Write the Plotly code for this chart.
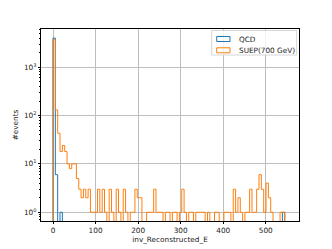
import numpy as np
import plotly.graph_objects as go

# ---- data ----
bin_lo = 0.0
bin_hi = 550.0
n_bins = 100

qcd_counts = [4000, 6, 0, 1] + [0] * 94 + [1, 0]

suep_counts = [
    3700, 131, 43, 18, 24, 18, 10, 8, 10, 10,
    5, 3, 2, 3, 2, 3, 1, 1, 1, 3,
    1, 3, 1, 0, 3, 1, 0, 3, 1, 0,
    3, 1, 0, 1, 1, 3, 2, 2, 0, 0,
    1, 1, 1, 3, 1, 1, 1, 0, 1, 1,
    0, 1, 1, 0, 1, 3, 1, 0, 1, 1,
    0, 1, 1, 1, 1, 0, 1, 0, 0, 1,
    1, 0, 0, 1, 1, 1, 0, 3, 1, 2,
    1, 0, 1, 1, 3, 1, 1, 3, 6, 3,
    1, 4, 2, 1, 0, 0, 0, 1, 1, 0,
]

series_names = ["QCD", "SUEP(700 GeV)"]
series_colors = ["#1f77b4", "#ff7f0e"]

x_tick_vals = [0, 100, 200, 300, 400, 500]
y_tick_vals = [1, 10, 100, 1000]
y_tick_text = ["10<sup>0</sup>", "10<sup>1</sup>", "10<sup>2</sup>", "10<sup>3</sup>"]

x_label = "inv_Reconstructed_E"
y_label = "#events"

edges = np.linspace(bin_lo, bin_hi, n_bins + 1)
ZERO = 1e-3  # empty bins drop below the visible log range


def step_xy(counts):
    c = [v if v > 0 else ZERO for v in counts]
    xs = [edges[0]] + list(edges)
    ys = [ZERO] + c + [ZERO]
    return xs, ys


W, H = 332, 249
ML, MR, MT, MB = 41, 33, 29, 28
PW, PH = W - ML - MR, H - MT - MB


def px(x):
    return (x - ML) / PW


def py(y):
    return (H - MB - y) / PH


fig = go.Figure()
for name, counts, color in zip(series_names, [qcd_counts, suep_counts], series_colors):
    xs, ys = step_xy(counts)
    fig.add_trace(go.Scatter(x=xs, y=ys, mode="lines", name=name,
                             line=dict(color=color, width=1, shape="hv"),
                             showlegend=False, hoverinfo="skip"))

FONT = "DejaVu Sans"
FS = 7.3

# matplotlib-style legend (box, outlined patches, labels)
shapes = [
    dict(type="rect", xref="paper", yref="paper", layer="above",
         x0=px(211.7), x1=px(296.7), y0=py(55.0), y1=py(30.5),
         fillcolor="rgba(255,255,255,0.8)", line=dict(color="#d6d6d6", width=1)),
]
annotations = []
for i, (name, color) in enumerate(zip(series_names, series_colors)):
    cy = 39.0 + i * 11.3
    shapes.append(dict(type="rect", xref="paper", yref="paper", layer="above",
                       x0=px(216.7), x1=px(230.0), y0=py(cy + 2.5), y1=py(cy - 2.5),
                       fillcolor="rgba(0,0,0,0)", line=dict(color=color, width=1)))
    annotations.append(dict(text=name, xref="paper", yref="paper", x=px(236.5), y=py(cy),
                            xanchor="left", yanchor="middle", showarrow=False,
                            font=dict(family=FONT, size=FS, color="#222")))

fig.update_layout(
    width=W, height=H,
    margin=dict(l=ML, r=MR, t=MT, b=MB),
    paper_bgcolor="white", plot_bgcolor="white",
    font=dict(family=FONT, size=FS, color="#222"),
    showlegend=False,
    shapes=shapes, annotations=annotations,
)
fig.update_xaxes(
    range=[-28.2, 578], tickvals=x_tick_vals, showgrid=True, gridcolor="#bdbdbd", gridwidth=1,
    zeroline=False, showline=True, mirror=True, linecolor="black", linewidth=1,
    ticks="outside", ticklen=2, tickcolor="black", tickfont=dict(size=FS), automargin=False,
    title=dict(text=x_label, font=dict(size=FS), standoff=3),
)
fig.update_yaxes(
    type="log", range=[-0.18, 3.79], tickvals=y_tick_vals, ticktext=y_tick_text,
    showgrid=True, gridcolor="#bdbdbd", gridwidth=1,
    zeroline=False, showline=True, mirror=True, linecolor="black", linewidth=1,
    ticks="outside", ticklen=2, tickcolor="black", tickfont=dict(size=FS), automargin=False,
    minor=dict(ticks="outside", ticklen=1, tickcolor="black", dtick="D1", showgrid=False),
    title=dict(text=y_label, font=dict(size=FS), standoff=4),
)

fig.write_html("out.html", config={"displayModeBar": False},
               post_script="document.body.style.margin='0';document.body.style.overflow='hidden';")
